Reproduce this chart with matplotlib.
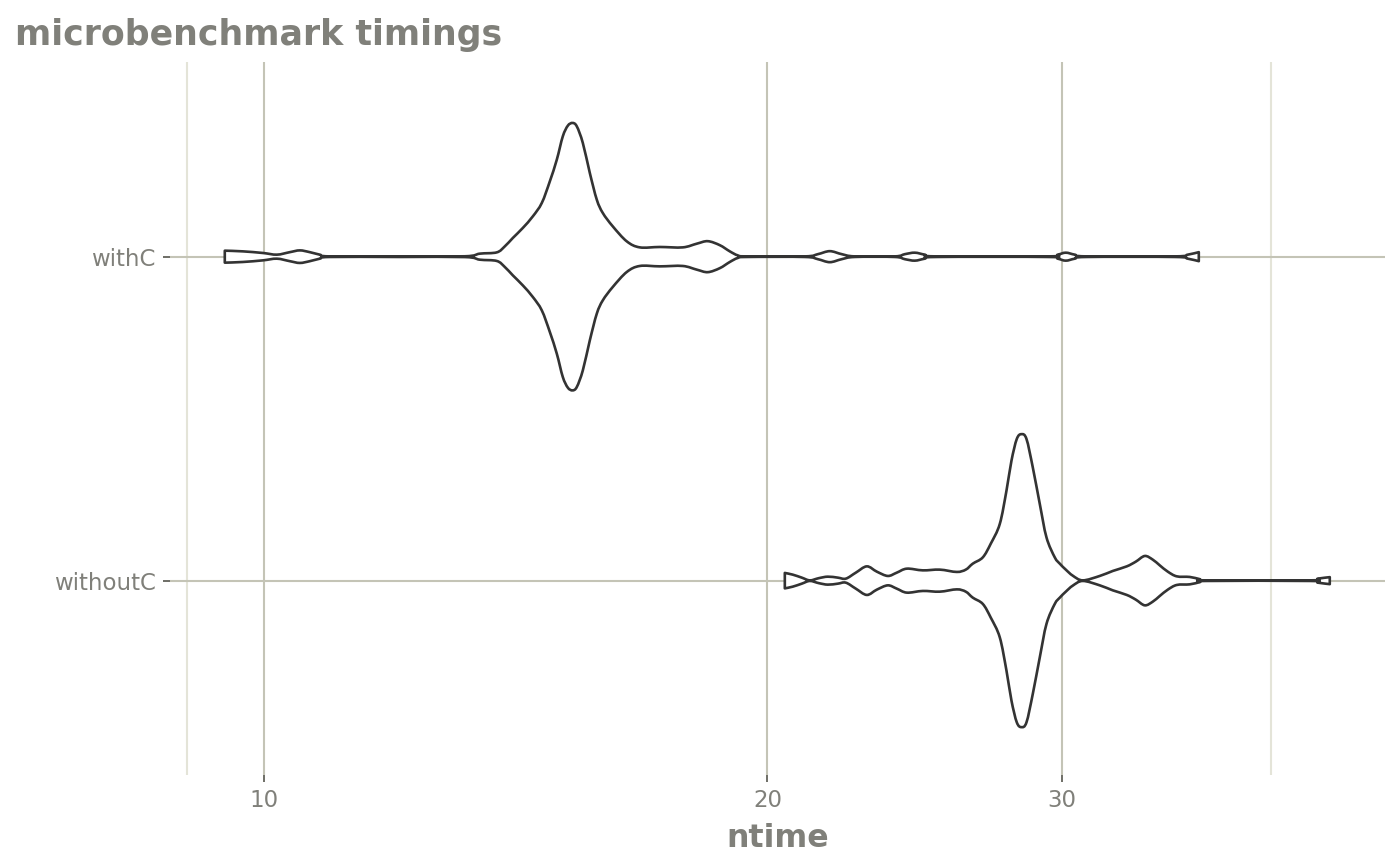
import numpy as np
import matplotlib
matplotlib.use("Agg")
import matplotlib.pyplot as plt
from matplotlib.path import Path
from matplotlib.patches import PathPatch
from matplotlib.ticker import FixedLocator, FixedFormatter, NullFormatter

# categories (bottom to top) and their violin profiles
categories = ["withoutC", "withC"]

# ntime values along each violin and the half width (in category units)
withC_x = [9.477, 9.715, 9.986, 10.181, 10.364, 10.508, 10.654, 10.801, 10.951, 12.059,
           13.187, 13.462, 13.781, 13.933, 14.088, 14.283, 14.481, 14.661, 14.824, 14.967,
           15.091, 15.196, 15.294, 15.385, 15.513, 15.663, 15.814, 15.945, 16.166, 16.481,
           16.778, 17.247, 17.801, 18.148, 18.424, 18.731, 18.991, 19.201, 19.440, 21.056,
           21.436, 21.793, 22.156, 22.556, 23.833, 24.163, 24.498, 24.838, 25.251, 29.418,
           29.826, 30.157, 30.532, 31.041, 35.039, 35.671, 36.216]
withC_w = [0.0185, 0.0164, 0.0114, 0.0062, 0.0139, 0.0194, 0.0139, 0.0062, 0.0009, 0.0009,
           0.0012, 0.0093, 0.0133, 0.0318, 0.0577, 0.0886, 0.1244, 0.1657, 0.2324, 0.2994,
           0.3713, 0.4043, 0.4127, 0.4022, 0.3509, 0.2583, 0.1759, 0.1349, 0.0935, 0.0472,
           0.0287, 0.0299, 0.0287, 0.0401, 0.0478, 0.0355, 0.0164, 0.0040, 0.0009, 0.0009,
           0.0077, 0.0170, 0.0077, 0.0009, 0.0009, 0.0077, 0.0123, 0.0062, 0.0009, 0.0009,
           0.0062, 0.0123, 0.0062, 0.0009, 0.0009, 0.0062, 0.0139]

withoutC_x = [20.485, 20.711, 20.969, 21.202, 21.466, 21.733, 22.035, 22.279, 22.588, 22.932,
              23.250, 23.604, 23.898, 24.230, 24.769, 25.355, 25.956, 26.279, 26.534, 26.902,
              27.199, 27.538, 27.793, 27.985, 28.190, 28.373, 28.569, 28.818, 29.097, 29.366,
              29.703, 29.908, 30.157, 30.448, 30.870, 31.601, 32.172, 32.798, 33.207, 33.621,
              33.993, 34.322, 34.702, 35.134, 35.770, 36.265, 36.617, 42.193, 42.660, 43.370]
withoutC_w = [0.0238, 0.0185, 0.0093, 0.0009, 0.0077, 0.0123, 0.0093, 0.0062, 0.0247, 0.0441,
              0.0278, 0.0145, 0.0247, 0.0370, 0.0318, 0.0340, 0.0269, 0.0340, 0.0525, 0.0719,
              0.1142, 0.1750, 0.2778, 0.3704, 0.4373, 0.4522, 0.4373, 0.3497, 0.2367, 0.1336,
              0.0719, 0.0525, 0.0340, 0.0154, 0.0009, 0.0145, 0.0299, 0.0441, 0.0586, 0.0762,
              0.0648, 0.0472, 0.0278, 0.0133, 0.0114, 0.0046, 0.0009, 0.0009, 0.0062, 0.0108]

x_breaks = [10, 20, 30]
x_labels = ["10", "20", "30"]
x_minor = [9, 40]

text_col = "#80807a"
grid_major = "#c4c4b6"
grid_minor = "#e4e4d8"
tick_col = "#6e6e66"


def curve_segments(lx, y):
    # cubic bezier pieces through the points (catmull-rom), x in log10 space
    pts = np.column_stack([lx, y])
    ext = np.vstack([pts[0], pts, pts[-1]])
    verts = []
    for i in range(1, len(ext) - 2):
        p0, p1, p2, p3 = ext[i - 1], ext[i], ext[i + 1], ext[i + 2]
        verts += [p1 + (p2 - p0) / 6, p2 - (p3 - p1) / 6, p2]
    return verts


def violin_path(xs, ws, pos):
    lx = np.log10(xs)
    ws = np.asarray(ws)
    up = curve_segments(lx, pos + ws)
    down = curve_segments(lx[::-1], (pos - ws)[::-1])
    verts = [(lx[0], pos + ws[0])] + up + [(lx[-1], pos - ws[-1])] + down + [(lx[0], pos + ws[0])]
    codes = ([Path.MOVETO] + [Path.CURVE4] * len(up) + [Path.LINETO]
             + [Path.CURVE4] * len(down) + [Path.CLOSEPOLY])
    verts = np.array(verts, dtype=float)
    verts[:, 0] = 10 ** verts[:, 0]
    return Path(verts, codes)


fig = plt.figure(figsize=(14, 8.65), dpi=100)
ax = fig.add_axes([0.1211, 0.104, 0.8682, 0.824])

profiles = [(withoutC_x, withoutC_w), (withC_x, withC_w)]
for pos, (xs, ws) in enumerate(profiles, start=1):
    patch = PathPatch(violin_path(np.array(xs), ws, pos), facecolor="white",
                      edgecolor="#333333", lw=1.9, joinstyle="round", zorder=3)
    ax.add_patch(patch)

ax.set_xscale("log")
all_x = np.log10(np.concatenate([withC_x, withoutC_x]))
lo, hi = all_x.min(), all_x.max()
rng = hi - lo
ax.set_xlim(10 ** (lo - 0.05 * rng), 10 ** (hi + 0.05 * rng))
ax.set_ylim(0.4, 2.6)

ax.xaxis.set_major_locator(FixedLocator(x_breaks))
ax.xaxis.set_major_formatter(FixedFormatter(x_labels))
ax.xaxis.set_minor_locator(FixedLocator(x_minor))
ax.xaxis.set_minor_formatter(NullFormatter())
ax.set_yticks([1, 2])
ax.set_yticklabels(categories)

ax.set_axisbelow(True)
ax.grid(which="major", axis="both", color=grid_major, lw=1.5)
ax.grid(which="minor", axis="x", color=grid_minor, lw=1.5)

for s in ax.spines.values():
    s.set_visible(False)

ax.tick_params(which="major", length=5, width=1.4, color=tick_col,
               labelcolor=text_col, labelsize=16.5, pad=5)
ax.tick_params(which="minor", length=0)

ax.set_xlabel("ntime", fontsize=22.8, fontweight="bold", color=text_col, labelpad=8)
fig.text(15 / 1400, 0.948, "microbenchmark timings", fontsize=25, fontweight="bold",
         color=text_col, ha="left", va="baseline")

fig.savefig("out.png", dpi=100)
